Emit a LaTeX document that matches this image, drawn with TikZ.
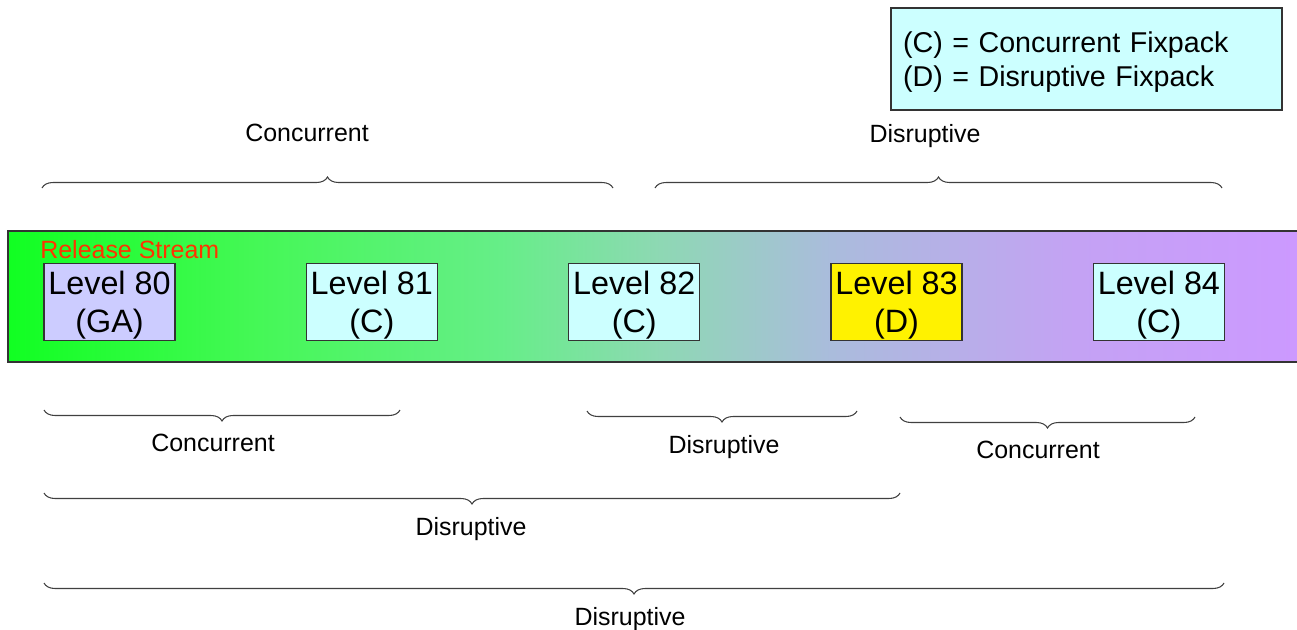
\documentclass[tikz,border=0pt]{standalone}
\usepackage{fontspec}
\setmainfont{Liberation Sans}
\usetikzlibrary{positioning, decorations.pathreplacing}

\definecolor{lvlblue}{HTML}{CCCCFF}
\definecolor{lvlcyan}{HTML}{CCFFFF}
\definecolor{relred}{HTML}{FF3300}
\definecolor{barA}{HTML}{11FF22}
\definecolor{barB}{HTML}{44F855}
\definecolor{barC}{HTML}{66EE88}
\definecolor{barD}{HTML}{8ED8B4}
\definecolor{barE}{HTML}{AABCDC}
\definecolor{barF}{HTML}{C4A2F4}
\definecolor{barG}{HTML}{CC99FF}
\pgfdeclarehorizontalshading{streamshade}{100bp}{color(0bp)=(barA); color(25bp)=(barA);
	color(34.4bp)=(barB); color(44.1bp)=(barC); color(50.3bp)=(barD);
	color(56.9bp)=(barE); color(66.4bp)=(barF); color(75bp)=(barG); color(100bp)=(barG)}

\begin{document}
\begin{tikzpicture}[x=0.02cm,y=-0.02cm,node distance=5.248cm,on grid,
		level/.style={draw=black!80,line width=0.8pt,minimum width=2.62cm,minimum height=1.54cm,inner sep=0pt,align=center,text depth=0pt,font=\fontsize{18.4}{21.5}\selectfont},
		lbl/.style={text depth=0pt,font=\fontsize{14.2}{16}\selectfont},
		brc/.style={decorate,decoration={brace,amplitude=0.22cm},draw=black!75,line width=0.6pt}]
		\useasboundingbox (0,0) rectangle (1297,629);
		% release stream bar
		\node[draw=black!80,line width=0.8pt,shading=streamshade,minimum width=25.8cm,minimum height=2.62cm,inner sep=0pt] (stream) at (653,296.5) {};
		\node[lbl,anchor=west,text=relred,inner sep=0pt] (relname) at (40,249) {Release Stream};
		\node[level,fill=lvlblue] (l80) at (109.5,302) {Level 80\\(GA)};
		\node[level,fill=lvlcyan] (l81) [right=of l80] {Level 81\\(C)};
		\node[level,fill=lvlcyan] (l82) [right=of l81] {Level 82\\(C)};
		\node[level,fill=yellow] (l83) [right=of l82] {Level 83\\(D)};
		\node[level,fill=lvlcyan] (l84) [right=of l83] {Level 84\\(C)};
		% legend
		\node[draw=black!80,line width=0.8pt,fill=lvlcyan,minimum width=7.82cm,minimum height=2.04cm] (legend) at (1086.5,59) {};
		\node[text width=7.34cm,inner sep=0pt,align=left,font=\fontsize{16.3}{19.1}\selectfont] (legtext) at (1086.5,62) {(C) = Concurrent Fixpack\\(D) = Disruptive Fixpack};
		% braces above
		\draw[brc] (42,188) -- (613,188);
		\node[lbl] (topconc) at (307,133) {Concurrent};
		\draw[brc] (655,188) -- (1222,188);
		\node[lbl] (topdisr) at (925,133) {Disruptive};
		% braces below
		\draw[brc] (400,410) -- (44,410);
		\node[lbl] (conc1) at (213,443) {Concurrent};
		\draw[brc] (857,411) -- (587,411);
		\node[lbl] (disr1) at (724,444) {Disruptive};
		\draw[brc] (1195,417) -- (900,417);
		\node[lbl] (conc2) at (1038,450) {Concurrent};
		\draw[brc] (900,493) -- (44,493);
		\node[lbl] (disr2) at (471,526) {Disruptive};
		\draw[brc] (1224,583) -- (44,583);
		\node[lbl] (disr3) at (630,616) {Disruptive};
	\end{tikzpicture}
\end{document}
